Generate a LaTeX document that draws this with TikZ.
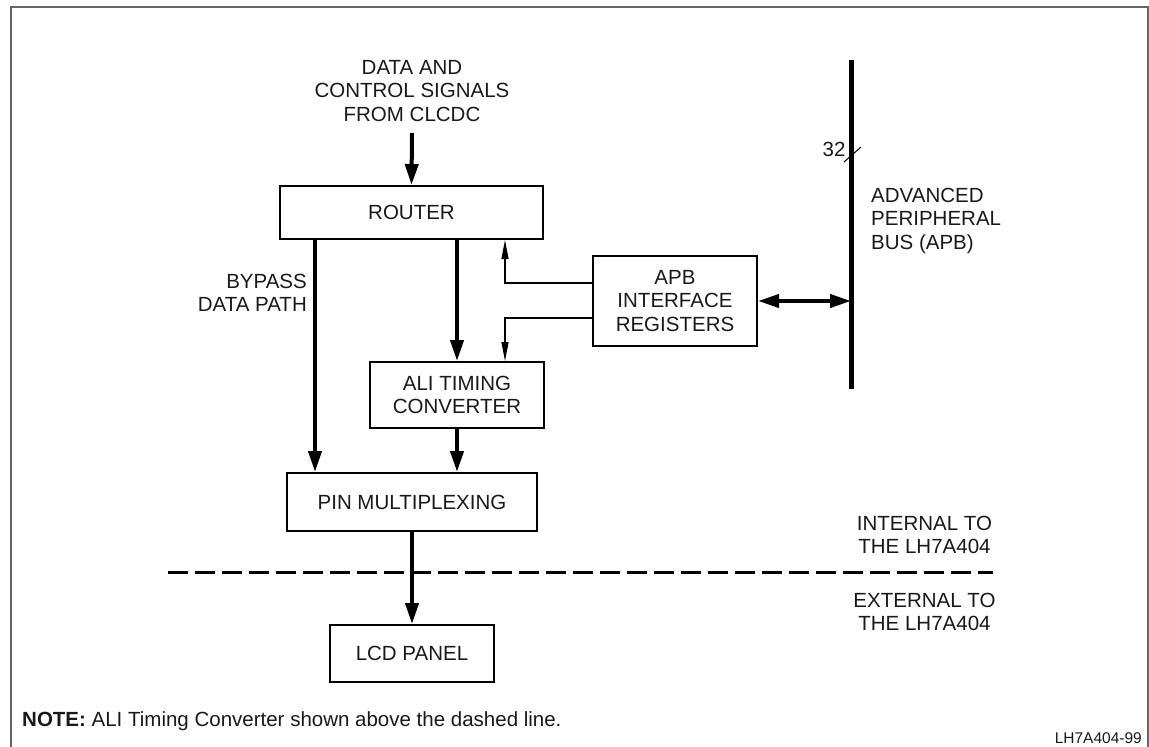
\documentclass[tikz,border=0pt]{standalone}
\usepackage{fontspec}
\setmainfont{Liberation Sans}
\usetikzlibrary{arrows.meta}
\begin{document}
\begin{tikzpicture}[x=1pt,y=-1pt,
  every node/.style={font=\fontsize{20.5}{23.5}\selectfont, text=black!90},
  blk/.style={draw, line width=2pt, inner sep=0pt, align=center},
  bigarrow/.style={line width=4pt, -{Triangle[length=21pt,width=13pt]}},
  dblarrow/.style={line width=4pt, {Triangle[length=21pt,width=13pt]}-{Triangle[length=21pt,width=13pt]}},
  thinarrow/.style={line width=1.2pt, -{Triangle[length=19pt,width=7pt]}},
  lbl/.style={inner sep=0pt, align=center}]
\useasboundingbox (0,0) rectangle (1149,747);
% frame
\draw[black!60, line width=1.5pt] (11,747) -- (11,7) -- (1148,7) -- (1148,747);
% blocks
\node[blk, minimum width=263pt, minimum height=53pt] (router) at (411.5,212.5) {ROUTER};
\node[blk, minimum width=174pt, minimum height=66pt] (ali) at (457,395) {ALI TIMING\\CONVERTER};
\node[blk, minimum width=250pt, minimum height=58pt] (pin) at (412,502) {PIN MULTIPLEXING};
\node[blk, minimum width=164pt, minimum height=57pt] (lcd) at (412,653.5) {LCD PANEL};
\node[blk, minimum width=164pt, minimum height=90pt] (apb) at (675,301) {APB\\INTERFACE\\REGISTERS};
% labels
\node[lbl] (src) at (412,91) {DATA AND\\CONTROL SIGNALS\\FROM CLCDC};
\node[lbl, anchor=east, align=right] (bypass) at (307,293) {BYPASS\\DATA PATH};
\node[lbl, anchor=west, align=left] (apblbl) at (871,220.5) {ADVANCED\\PERIPHERAL\\BUS (APB)};
\node[lbl] (n32) at (834,149) {32};
\node[lbl] (internal) at (924.5,535) {INTERNAL TO\\THE LH7A404};
\node[lbl] (external) at (924.5,612) {EXTERNAL TO\\THE LH7A404};
\node[lbl, anchor=base west] (note) at (22,726) {\textbf{NOTE:} ALI Timing Converter shown above the dashed line.};
\node[lbl, anchor=base east, font=\fontsize{15.5}{18}\selectfont] (fig) at (1142,743) {LH7A404-99};
% coordinates
\coordinate (srcend) at (412,133);
\coordinate (bp) at (315,0);
\coordinate (c1) at (505,283);
\coordinate (c2) at (505,318);
\coordinate (bt) at (851,60);
\coordinate (bb) at (851,389);
\coordinate (sl1) at (844,162);
\coordinate (sl2) at (861,147);
\coordinate (dl) at (168,572);
\coordinate (dr) at (993,572);
% bus
\draw[line width=5pt] (bt) -- (bb);
\draw[line width=1pt] (sl1) -- (sl2);
% connectors
\draw[bigarrow] (srcend) -- (router.north);
\draw[bigarrow] (router.south -| bp) -- (pin.north -| bp);
\draw[bigarrow] (router.south -| ali.north) -- (ali.north);
\draw[bigarrow] (ali.south) -- (pin.north -| ali.south);
\draw[bigarrow] (pin.south) -- (lcd.north);
\draw[thinarrow] (c1 -| apb.west) -| (router.south -| c1);
\draw[thinarrow] (c2 -| apb.west) -| (ali.north -| c2);
\draw[dblarrow] (apb.east) -- (apb.east -| bt);
% dashed boundary
\draw[line width=3pt, dash pattern=on 20pt off 7pt] (dl) -- (dr);
\end{tikzpicture}
\end{document}
